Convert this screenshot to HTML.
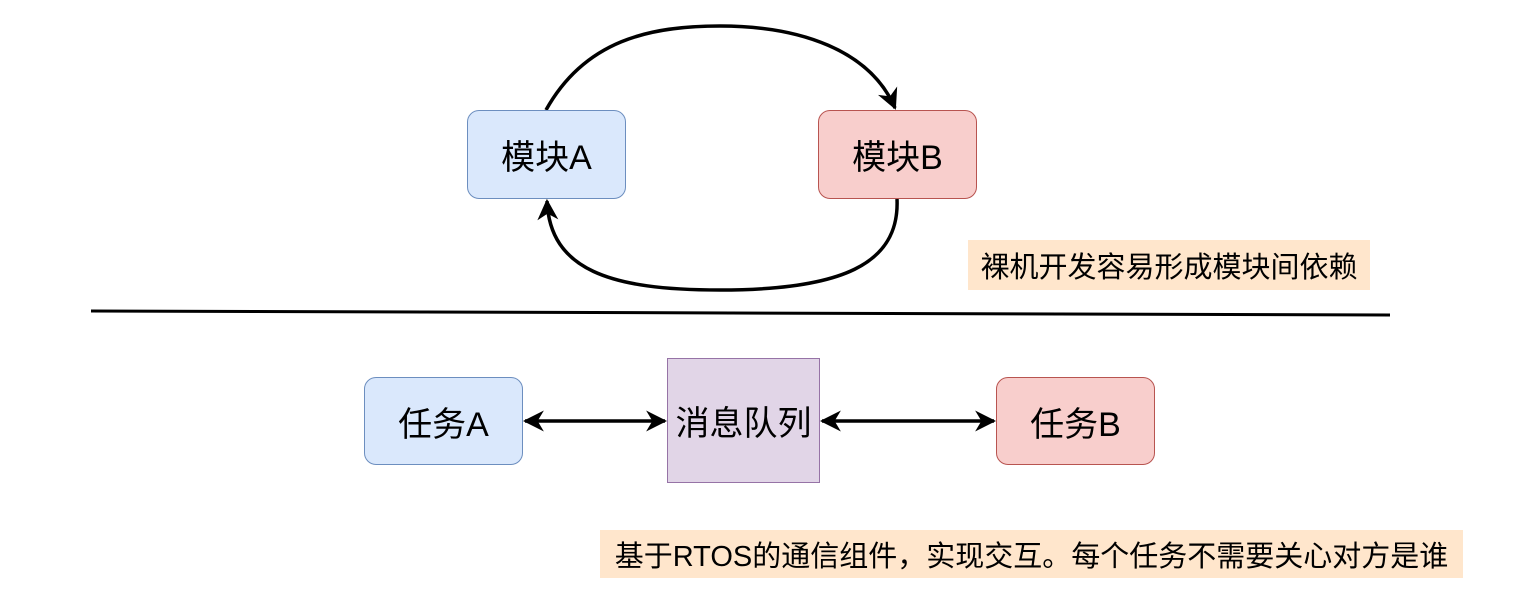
<!DOCTYPE html>
<html><head><meta charset="utf-8"><style>
body{margin:0;width:1534px;height:612px;background:#fff;overflow:hidden;position:relative;font-family:"Liberation Sans","Noto Sans CJK SC",sans-serif;}
.b{position:absolute;box-sizing:border-box;display:flex;align-items:center;justify-content:center;font-size:34px;color:#000;}
.blue{background:#dae8fc;border:1px solid #6c8ebf;border-radius:12px;}
.red{background:#f8cecc;border:1px solid #b85450;border-radius:12px;}
.pur{background:#e1d5e7;border:1px solid #9673a6;}
.lab{position:absolute;background:#ffe6cc;font-size:29px;display:flex;align-items:center;justify-content:center;white-space:nowrap;}
</style></head><body>
<svg width="1534" height="612" style="position:absolute;left:0;top:0">
<defs><marker id="a" viewBox="0 0 10 10" refX="9" refY="5" markerWidth="6" markerHeight="6" orient="auto-start-reverse" markerUnits="strokeWidth"><path d="M0,0 L10,5 L0,10 L3,5 z" fill="#000"/></marker></defs>
<g fill="none" stroke="#000" stroke-width="3.5">
<path d="M546,110 C585,40 650,26 720,26 C800,26 870,50 895,108" marker-end="url(#a)"/>
<path d="M897,199 C900,265 840,290 720,290 C610,290 550,270 547,201" marker-end="url(#a)"/>
<line x1="91" y1="311" x2="1390" y2="315" stroke-width="3"/>
<line x1="525" y1="421" x2="665" y2="421" marker-start="url(#a)" marker-end="url(#a)"/>
<line x1="822" y1="421" x2="994" y2="421" marker-start="url(#a)" marker-end="url(#a)"/>
</g></svg>
<div class="b blue" style="left:467px;top:110px;width:159px;height:89px">模块A</div>
<div class="b red" style="left:818px;top:110px;width:159px;height:89px">模块B</div>
<div class="lab" style="left:968px;top:240px;width:402px;height:50px">裸机开发容易形成模块间依赖</div>
<div class="b blue" style="left:364px;top:377px;width:159px;height:88px">任务A</div>
<div class="b pur" style="left:667px;top:358px;width:153px;height:125px">消息队列</div>
<div class="b red" style="left:996px;top:377px;width:159px;height:88px">任务B</div>
<div class="lab" style="left:600px;top:530px;width:863px;height:48px">基于RTOS的通信组件，实现交互。每个任务不需要关心对方是谁</div>
</body></html>
